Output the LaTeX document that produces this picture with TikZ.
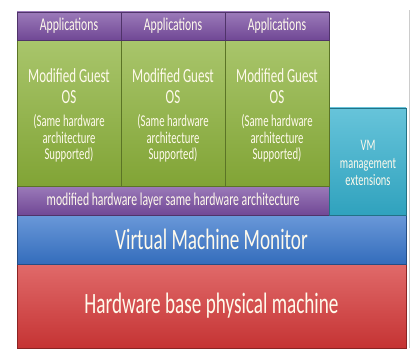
\documentclass[tikz,border=0pt]{standalone}
\usepackage{fontspec}
\newfontfamily\slidefont[FakeStretch=0.65]{Carlito}
\usetikzlibrary{positioning}
\definecolor{appviolet}{RGB}{122,78,162}
\definecolor{guestgreen}{RGB}{140,178,58}
\definecolor{extcyan}{RGB}{52,176,206}
\definecolor{vmmblue}{RGB}{56,118,204}
\definecolor{hwred}{RGB}{214,56,56}
\definecolor{slidetext}{RGB}{255,250,236}
\tikzset{
  layer/.style={draw=#1!65!black, line width=0.7pt, top color=#1!75!white,
    bottom color=#1!92!black, inner sep=0pt, outer sep=0pt, text=slidetext,
    font=\slidefont},
  apptext/.style={font=\slidefont\fontsize{18}{18}\selectfont},
  line/.style={text=slidetext, inner sep=0pt, anchor=base},
  guesttitle/.style={line, font=\slidefont\fontsize{20}{20}\selectfont},
  guestnote/.style={line, font=\slidefont\fontsize{16.5}{16.5}\selectfont},
  extnote/.style={line, font=\slidefont\fontsize{16}{16}\selectfont}
}
\begin{document}
\begin{tikzpicture}[x=1pt,y=1pt]
\useasboundingbox (0,0) rectangle (411,348);
%\draw[help lines,step=20] (0,0) grid (411,348);
\node[layer=hwred, minimum width=389pt, minimum height=84pt, anchor=south west,
  font=\slidefont\fontsize{29.5}{29.5}\selectfont] (hw) at (17,0) {Hardware base physical machine};
\node[layer=vmmblue, minimum width=389pt, minimum height=49pt, above=0pt of hw,
  font=\slidefont\fontsize{29.5}{29.5}\selectfont] (vmm) {Virtual Machine Monitor};
\node[layer=appviolet, minimum width=312pt, minimum height=29pt, anchor=south west,
  font=\slidefont\fontsize{18}{18}\selectfont] (hwlayer) at (vmm.north west) {modified hardware layer same hardware architecture};
\node[layer=extcyan, minimum width=77pt, minimum height=107pt, anchor=south east] (vmext) at (vmm.north east) {};
\node[extnote] (vm1) at (368,197) {VM};
\node[extnote] (vm2) at (368,179) {management};
\node[extnote] (vm3) at (368,162) {extensions};
% three guests
\node[layer=guestgreen, minimum width=104pt, minimum height=146pt, anchor=south west] (guest1) at (hwlayer.north west) {};
\node[layer=guestgreen, minimum width=104pt, minimum height=146pt, right=0pt of guest1] (guest2) {};
\node[layer=guestgreen, minimum width=104pt, minimum height=146pt, right=0pt of guest2] (guest3) {};
\foreach \g in {1,2,3}{
  \node[layer=appviolet, apptext, minimum width=104pt, minimum height=28pt, above=0pt of guest\g] (app\g) {Applications};
  \node[guesttitle] (title\g) at ([yshift=-43pt]guest\g.north) {Modified Guest};
  \node[guesttitle] (os\g) at ([yshift=-64pt]guest\g.north) {OS};
  \node[guestnote] (notea\g) at ([yshift=-87pt]guest\g.north) {(Same hardware};
  \node[guestnote] (noteb\g) at ([yshift=-104pt]guest\g.north) {architecture};
  \node[guestnote] (notec\g) at ([yshift=-120pt]guest\g.north) {Supported)};
}
\draw[gray!40, line width=0.6pt] (409,0) -- (409,338);
\end{tikzpicture}
\end{document}
